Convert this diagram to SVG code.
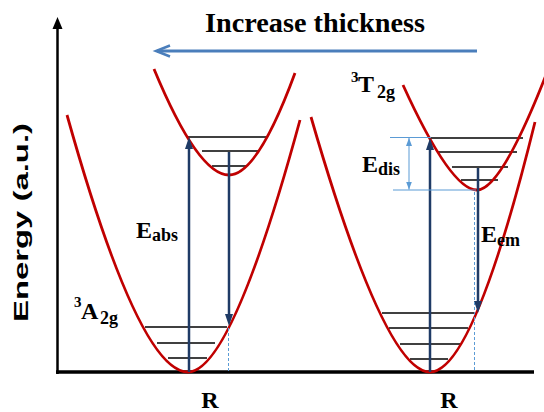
<svg xmlns="http://www.w3.org/2000/svg" width="544" height="412" viewBox="0 0 544 412">
<style>
.curve{fill:none;stroke:#c00000;stroke-width:2.8}
.lvl{stroke:#000;stroke-width:1.3}
.tr{stroke:#1f3b66;stroke-width:2.5;fill:none}
.dash{stroke:#5b9bd5;stroke-width:1;stroke-dasharray:3,2}
.dis{stroke:#5b9bd5;stroke-width:1;fill:none}
.t{font-family:"Liberation Serif","Times New Roman",serif;font-weight:bold;fill:#000}
</style>
<defs>
<marker id="ah" viewBox="0 0 12 8" refX="2" refY="4" markerWidth="12" markerHeight="8" markerUnits="userSpaceOnUse" orient="auto"><path d="M0,0 L12,4 L0,8 z" fill="#1f3b66"/></marker>
<marker id="ahs" viewBox="0 0 8 6" refX="8" refY="3" markerWidth="8" markerHeight="6" markerUnits="userSpaceOnUse" orient="auto-start-reverse"><path d="M0,0 L8,3 L0,6 z" fill="#5b9bd5"/></marker>
</defs>
<rect width="544" height="412" fill="#fff"/>

<g id="title">
<text class="t" x="315" y="32" font-size="28" text-anchor="middle" textLength="220" lengthAdjust="spacingAndGlyphs">Increase thickness</text>
<line x1="477" y1="51" x2="157" y2="51" stroke="#4a7ebb" stroke-width="3"/>
<polyline points="170,45.5 156,51 170,56.5" fill="none" stroke="#4a7ebb" stroke-width="2.5"/>
</g>

<g id="axes">
<line x1="57.5" y1="374" x2="57.5" y2="28" stroke="#000" stroke-width="2.5"/>
<path d="M52.5,29 L57.5,17 L62.5,29 z" fill="#000"/>
<line x1="56" y1="372" x2="534" y2="372" stroke="#000" stroke-width="3.5"/>
<text x="0" y="0" transform="translate(28,222.5) rotate(-90)" font-family="'Liberation Sans',Arial,sans-serif" font-weight="bold" font-size="20" text-anchor="middle" textLength="199" lengthAdjust="spacingAndGlyphs">Energy (a.u.)</text>
<text class="t" x="210" y="408" font-size="24" text-anchor="middle">R</text>
<text class="t" x="449" y="408" font-size="24" text-anchor="middle">R</text>
</g>

<g id="left-ground">
<line class="lvl" x1="145" y1="327" x2="227" y2="327"/>
<line class="lvl" x1="157" y1="343" x2="215" y2="343"/>
<line class="lvl" x1="168" y1="358" x2="207" y2="358"/>
<path class="curve" d="M67,115 Q139,372 188,372 Q231.4,372 300,120"/>
<text class="t" x="74" y="307" font-size="15">3</text>
<text class="t" x="81" y="319" font-size="24">A</text>
<text class="t" x="100" y="324" font-size="18">2g</text>
</g>

<g id="left-excited">
<line class="lvl" x1="188" y1="137" x2="268" y2="137"/>
<line class="lvl" x1="202" y1="151" x2="258" y2="151"/>
<line class="lvl" x1="212" y1="166" x2="247" y2="166"/>
<path class="curve" d="M154,69 Q198,175 229,175 Q257.5,175 295,73"/>
</g>

<g id="right-ground">
<line class="lvl" x1="382" y1="313" x2="475" y2="313"/>
<line class="lvl" x1="389" y1="328" x2="468" y2="328"/>
<line class="lvl" x1="400" y1="344" x2="460" y2="344"/>
<line class="lvl" x1="410" y1="359" x2="448" y2="359"/>
<path class="curve" d="M311,117 Q384.8,372 430,372 Q473.4,372 535,122"/>
</g>

<g id="right-excited">
<line class="lvl" x1="430" y1="138" x2="523" y2="138"/>
<line class="lvl" x1="437" y1="152" x2="517" y2="152"/>
<line class="lvl" x1="452" y1="167" x2="508" y2="167"/>
<line class="lvl" x1="461" y1="180" x2="498" y2="180"/>
<path class="curve" d="M403,85 Q450.8,190 477,190 Q501,190 546,75"/>
<text class="t" x="351" y="82" font-size="15">3</text>
<text class="t" x="358" y="92" font-size="24">T</text>
<text class="t" x="377" y="98" font-size="18">2g</text>
</g>

<g id="connectors">
<line class="tr" x1="189" y1="372" x2="189" y2="147" marker-end="url(#ah)"/>
<line class="tr" x1="229" y1="152" x2="229" y2="316" marker-end="url(#ah)"/>
<line class="dash" x1="228.5" y1="328" x2="228.5" y2="371"/>
<line class="tr" x1="430" y1="372" x2="430" y2="148" marker-end="url(#ah)"/>
<line class="tr" x1="478" y1="168" x2="478" y2="303" marker-end="url(#ah)"/>
<line class="dash" x1="474.5" y1="192" x2="474.5" y2="371"/>
<line class="dis" x1="390" y1="137.5" x2="431" y2="137.5"/>
<line class="dis" x1="393" y1="190" x2="476" y2="190"/>
<line class="dis" x1="409" y1="138" x2="409" y2="189.5" marker-start="url(#ahs)" marker-end="url(#ahs)"/>
</g>

<g id="labels">
<text class="t" x="136" y="238"><tspan font-size="24">E</tspan><tspan font-size="18" dy="3">abs</tspan></text>
<text class="t" x="362" y="172"><tspan font-size="24">E</tspan><tspan font-size="18" dy="3">dis</tspan></text>
<text class="t" x="481" y="242"><tspan font-size="24">E</tspan><tspan font-size="18" dy="4">em</tspan></text>
</g>
</svg>
